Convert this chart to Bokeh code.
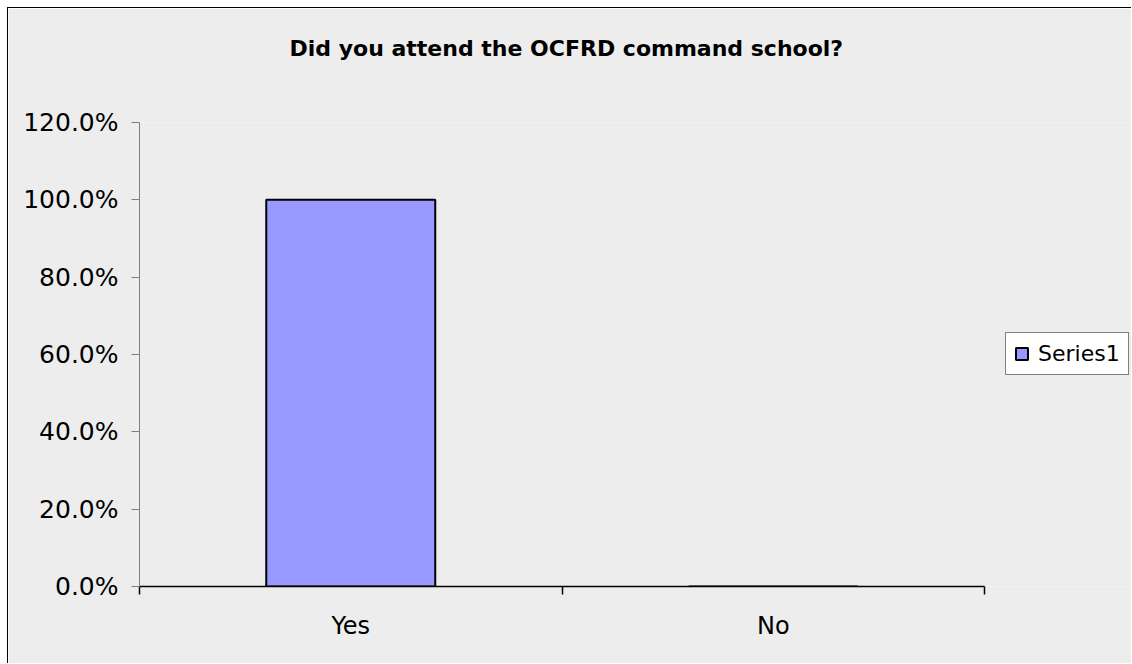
from bokeh.plotting import figure
from bokeh.models import (ColumnDataSource, FixedTicker, NumeralTickFormatter,
                          Range1d, Legend, LegendItem, Title)
from bokeh.embed import file_html
from bokeh.resources import INLINE

# ---- data ----
categories = ["Yes", "No"]
values = [1.0, 0.0]
series_name = "Series1"
y_ticks = [0.0, 0.2, 0.4, 0.6, 0.8, 1.0, 1.2]
title_text = "Did you attend the OCFRD command school?"

BG = "#EDEDED"
FONT = "DejaVu Sans"

# layout (pixels)
W, H = 1124, 656
LEFT, TOP, BOTTOM = 131, 114, 78
AXIS_W = 845                      # width of the category axis
FRAME_W = W - LEFT                # frame runs to the right edge (room for legend)

n = len(categories)
xs = [i + 0.5 for i in range(n)]
src = ColumnDataSource(dict(x=xs, top=values, cat=categories))

p = figure(width=W, height=H, output_backend="svg", toolbar_location=None,
           x_range=Range1d(0, n * FRAME_W / AXIS_W), y_range=Range1d(0, 1.2),
           min_border_left=LEFT, min_border_right=0, min_border_top=TOP,
           min_border_bottom=BOTTOM)
p.styles = {"margin-left": "7px", "margin-top": "7px",
            "border-left": "1px solid #000", "border-top": "1px solid #000"}
p.background_fill_color = BG
p.border_fill_color = BG
p.outline_line_color = None
p.grid.visible = False

# spacer (closest to frame), then real title above it
p.add_layout(Title(text="\u00a0", text_font_size="37px", text_font=FONT), "above")
p.add_layout(Title(text=title_text, align="left", offset=150, vertical_align="top",
                   text_font=FONT, text_font_size="22px", text_font_style="bold",
                   text_color="#000000"), "above")

r = p.vbar(x="x", top="top", width=0.4, source=src, fill_color="#9999FF",
           line_color="#000000", line_width=2)

# y axis
ya = p.yaxis[0]
ya.ticker = FixedTicker(ticks=y_ticks)
ya.formatter = NumeralTickFormatter(format="0.0%")
ya.axis_line_color = "#808080"
ya.major_tick_line_color = "#808080"
ya.major_tick_in = 0
ya.major_tick_out = 8
ya.minor_tick_line_color = None
ya.major_label_text_font = FONT
ya.major_label_text_font_size = "25px"
ya.major_label_text_color = "#000000"
ya.major_label_standoff = 13

# x axis
xa = p.xaxis[0]
xa.bounds = (0, n)
xa.ticker = FixedTicker(ticks=xs, minor_ticks=list(range(n + 1)))
xa.major_label_overrides = {x: c for x, c in zip(xs, categories)}
xa.axis_line_color = "#000000"
xa.axis_line_width = 1.5
xa.major_tick_in = 0
xa.major_tick_out = 0
xa.minor_tick_in = 0
xa.minor_tick_out = 8
xa.minor_tick_line_color = "#000000"
xa.minor_tick_line_width = 1.5
xa.major_label_text_font = FONT
xa.major_label_text_font_size = "24px"
xa.major_label_text_color = "#000000"
xa.major_label_standoff = 17

legend = Legend(items=[LegendItem(label=series_name, renderers=[r])],
                location=(866, 211), border_line_color="#000000",
                border_line_width=1, background_fill_color="#FFFFFF",
                background_fill_alpha=1.0, label_text_font=FONT,
                label_text_color="#000000",
                label_text_font_size="22px", glyph_width=15, glyph_height=15,
                padding=8, margin=0, label_standoff=9, spacing=0)
p.add_layout(legend)

open("out.html", "w").write(file_html(p, INLINE))
